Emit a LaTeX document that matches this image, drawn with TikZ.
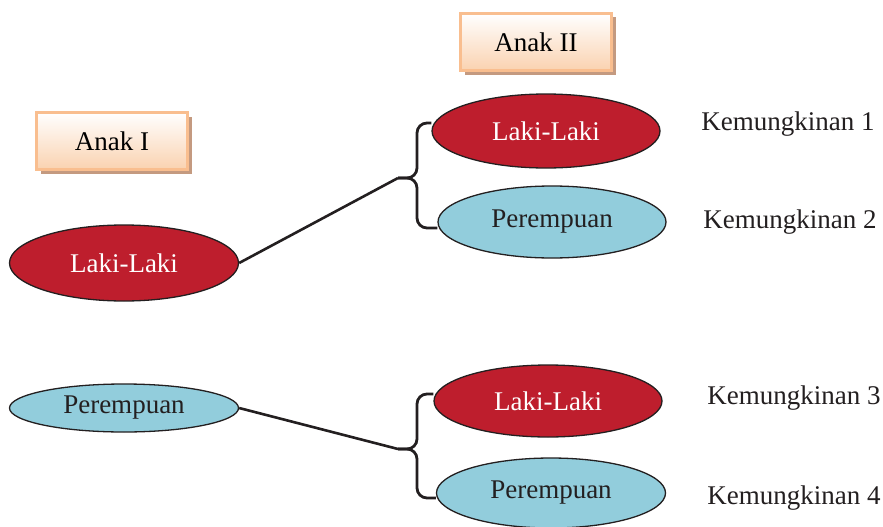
\documentclass[tikz,border=0pt]{standalone}
\usepackage{fontspec}
\setmainfont{Liberation Serif}
\usetikzlibrary{shapes.geometric,shadows}
\definecolor{redc}{HTML}{BE1E2D}
\definecolor{bluec}{HTML}{92CDDC}
\definecolor{peach}{HTML}{FAD2B0}
\definecolor{peachborder}{HTML}{F9BE8F}
\definecolor{shadowc}{HTML}{C49A80}
\definecolor{linec}{HTML}{231F20}
\begin{document}
\begin{tikzpicture}[x=1pt,y=-1pt,
  every node/.style={font=\fontsize{27}{30}\selectfont},
  hdr/.style={rectangle, draw=peachborder, line width=2.2pt, top color=white, bottom color=peach,
    minimum width=151pt, minimum height=57pt, inner sep=0pt,
    general shadow={shadow xshift=4pt, shadow yshift=-4pt, fill=shadowc}},
  boy/.style={ellipse, draw=linec, line width=1.3pt, fill=redc, text=white, inner sep=0pt},
  girl/.style={ellipse, draw=linec, line width=1.3pt, fill=bluec, text=linec, inner sep=0pt},
  conn/.style={draw=linec, line width=2.6pt},
  brace/.style={draw=linec, line width=2.8pt, rounded corners=10pt},
  lbl/.style={text=linec, inner sep=0pt}]
\useasboundingbox (0,0) rectangle (883,527);
\fill[white] (0,0) rectangle (883,527);

% headers
\node[hdr] (h1) at (112,141) {Anak I};
\node[hdr] (h2) at (536,42) {Anak II};

% left ellipses
\node[boy, minimum width=229pt, minimum height=76pt] (l1) at (124,263) {Laki-Laki};
\node[girl, minimum width=229pt, minimum height=48pt] (l2) at (124,408) {Perempuan};

% right ellipses
\node[boy, minimum width=228pt, minimum height=74pt] (r1) at (546,131) {Laki-Laki};
\node[girl, minimum width=228pt, minimum height=72pt] (r2) at (552,222) {Perempuan};
\node[boy, minimum width=228pt, minimum height=72pt] (r3) at (548,401) {Laki-Laki};
\node[girl, minimum width=229pt, minimum height=70pt] (r4) at (551,493) {Perempuan};

% labels
\node[lbl] (k1) at (788,124) {Kemungkinan 1};
\node[lbl] (k2) at (790,222) {Kemungkinan 2};
\node[lbl] (k3) at (794,398) {Kemungkinan 3};
\node[lbl] (k4) at (794,498) {Kemungkinan 4};

% brace tips
\coordinate (t1) at (398,178);
\coordinate (t2) at (398,449);

% braces
\draw[brace] (r1.west |- 0,123) -- (417,123) -- (417,178) -- (t1);
\draw[brace] (r2.west |- 0,228) -- (417,228) -- (417,178) -- (t1);
\draw[brace] (r3.west |- 0,394) -- (417,394) -- (417,449) -- (t2);
\draw[brace] (r4.west |- 0,498) -- (417,498) -- (417,449) -- (t2);

% connectors
\draw[conn] (l1.east) -- (t1);
\draw[conn] (l2.east) -- (t2);
\end{tikzpicture}
\end{document}
